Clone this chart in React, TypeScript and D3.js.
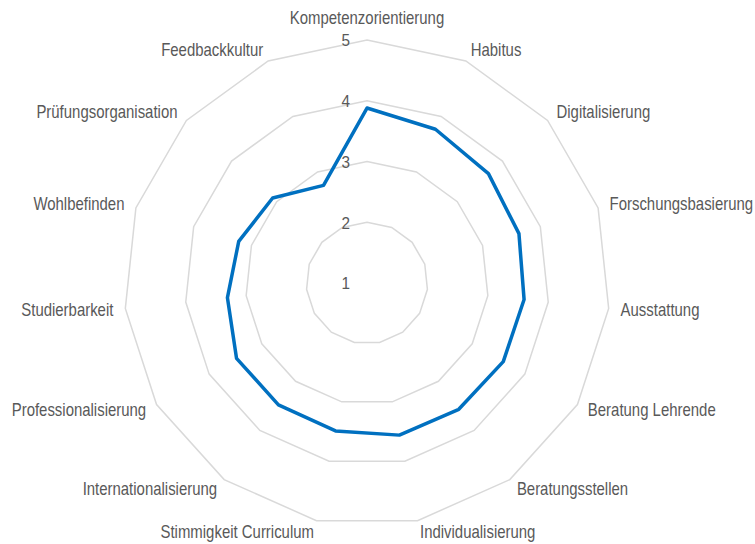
import React from "react";
import * as d3 from "d3";

const categories = [
  "Kompetenzorientierung",
  "Habitus",
  "Digitalisierung",
  "Forschungsbasierung",
  "Ausstattung",
  "Beratung Lehrende",
  "Beratungsstellen",
  "Individualisierung",
  "Stimmigkeit Curriculum",
  "Internationalisierung",
  "Professionalisierung",
  "Studierbarkeit",
  "Wohlbefinden",
  "Prüfungsorganisation",
  "Feedbackkultur",
];

const values = [3.88, 3.77, 3.69, 3.63, 3.6, 3.59, 3.57, 3.56, 3.49, 3.48, 3.48, 3.31, 3.22, 3.09, 2.76];

const ticks = [1, 2, 3, 4, 5];

const width = 755;
const height = 544;
const cx = 367;
const cy = 283;
const radius = 243;
// no narrow font installed, so squeeze Liberation Sans horizontally
const squeeze = 0.83;
const font = "'Liberation Sans', Arial, sans-serif";

const App: React.FC = () => {
  const r = d3.scaleLinear().domain([1, 5]).range([0, radius]);
  const step = (2 * Math.PI) / categories.length;
  const angle = (i: number) => i * step;

  const ring: any = d3
    .lineRadial<number>()
    .angle((_, i) => angle(i))
    .radius((d) => r(d))
    .curve(d3.curveLinearClosed);

  const labelR = radius + 12;

  return (
    <svg
      width={width}
      height={height}
      style={{ position: "absolute", left: 0, top: 0, background: "#fff" }}
    >
      <g transform={`translate(${cx},${cy})`}>
        {ticks
          .filter((t) => t > 1)
          .map((t) => (
            <path
              key={t}
              d={ring(categories.map(() => t))}
              fill="none"
              stroke="#d9d9d9"
              strokeWidth={1.5}
            />
          ))}
        <path
          d={ring(values)}
          fill="none"
          stroke="#0070c0"
          strokeWidth={3.5}
          strokeLinejoin="round"
        />
        {ticks.map((t) => (
          <text
            key={t}
            transform={`translate(-17,${-r(t)}) scale(0.9,1)`}
            textAnchor="end"
            dominantBaseline="central"
            fontFamily={font}
            fontSize={17}
            fill="#595959"
          >
            {t}
          </text>
        ))}
        {categories.map((c, i) => {
          const a = angle(i);
          const s = Math.sin(a);
          const x = labelR * s;
          let y = -labelR * Math.cos(a);
          const anchor = s > 0.01 ? "start" : s < -0.01 ? "end" : "middle";
          if (anchor === "middle") y -= 10;
          return (
            <text
              key={c}
              transform={`translate(${x},${y}) scale(${squeeze},1)`}
              textAnchor={anchor}
              dominantBaseline="central"
              fontFamily={font}
              fontSize={18}
              fill="#595959"
            >
              {c}
            </text>
          );
        })}
      </g>
    </svg>
  );
};

export default App;
